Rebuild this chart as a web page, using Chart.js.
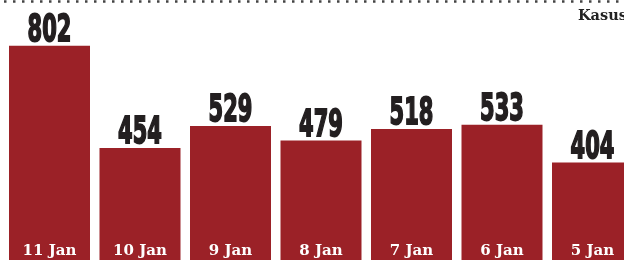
<!DOCTYPE html>
<html>
<head>
<meta charset="utf-8">
<script src="https://cdn.jsdelivr.net/npm/chart.js@4/dist/chart.umd.min.js"></script>
<style>
  html, body { margin: 0; padding: 0; background: #fff; overflow: hidden; }
  #wrap { position: relative; width: 642px; height: 260px; }
</style>
</head>
<body>
<div id="wrap"><canvas id="chart" width="642" height="260"></canvas></div>
<script>
// Daily cases, newest first
const days = ['11 Jan', '10 Jan', '9 Jan', '8 Jan', '7 Jan', '6 Jan', '5 Jan'];
const cases = [802, 454, 529, 479, 518, 533, 404];
const unitLabel = 'Kasus';

const barColor = '#9b2127';

// draws the dotted rule, the unit label, the numbers above bars and the dates inside them
const labelsPlugin = {
  id: 'labels',
  afterDatasetsDraw(chart) {
    const ctx = chart.ctx;
    ctx.save();

    // dotted top rule
    ctx.strokeStyle = '#444';
    ctx.lineWidth = 2.5;
    ctx.setLineDash([2.5, 6.5]);
    ctx.beginPath();
    ctx.moveTo(4, 1.5);
    ctx.lineTo(chart.width, 1.5);
    ctx.stroke();
    ctx.setLineDash([]);

    ctx.fillStyle = '#222';
    ctx.font = 'bold 14.5px "DejaVu Serif"';
    ctx.textAlign = 'left';
    ctx.textBaseline = 'alphabetic';
    ctx.fillText(unitLabel, 578, 20);

    const meta = chart.getDatasetMeta(0);
    meta.data.forEach((bar, i) => {
      // value above bar, condensed heavy digits
      const txt = String(cases[i]);
      ctx.font = 'bold 37px "Liberation Sans Narrow", "DejaVu Sans Condensed", sans-serif';
      const w = ctx.measureText(txt).width;
      const sx = (14.6 * txt.length) / w;
      ctx.save();
      ctx.translate(bar.x, bar.y - 5);
      ctx.scale(sx, 1);
      ctx.fillStyle = '#231f20';
      ctx.strokeStyle = '#231f20';
      ctx.lineWidth = 1.8;
      ctx.textAlign = 'center';
      ctx.fillText(txt, 0, 0);
      ctx.strokeText(txt, 0, 0);
      ctx.restore();

      // date inside bar
      ctx.fillStyle = '#fff';
      ctx.font = 'bold 15px "DejaVu Serif"';
      ctx.textAlign = 'center';
      ctx.fillText(days[i], bar.x, 255);
    });
    ctx.restore();
  }
};

new Chart(document.getElementById('chart'), {
  type: 'bar',
  data: {
    labels: days,
    datasets: [{
      data: cases,
      backgroundColor: barColor,
      borderWidth: 0,
      barPercentage: 1,
      categoryPercentage: 0.895
    }]
  },
  options: {
    responsive: false,
    animation: false,
    layout: { padding: { left: 4.25, right: 4.25, top: 0, bottom: 0 } },
    plugins: { legend: { display: false }, tooltip: { enabled: false } },
    scales: {
      x: { display: false, grid: { display: false } },
      y: { display: false, min: 72, max: 958, grid: { display: false } }
    }
  },
  plugins: [labelsPlugin]
});
</script>
</body>
</html>
